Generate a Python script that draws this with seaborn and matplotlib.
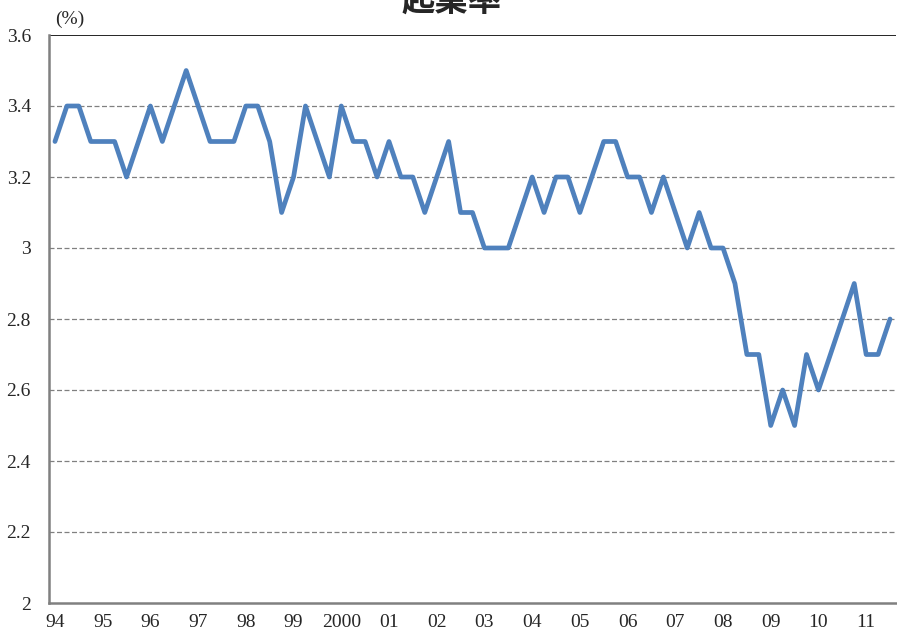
import numpy as np
import pandas as pd
import matplotlib.pyplot as plt
import seaborn as sns

# 起業率 (四半期, 1994Q1 - 2011Q3)
rate = [3.3, 3.4, 3.4, 3.3, 3.3, 3.3, 3.2, 3.3, 3.4, 3.3, 3.4, 3.5,
        3.4, 3.3, 3.3, 3.3, 3.4, 3.4, 3.3, 3.1, 3.2, 3.4, 3.3, 3.2,
        3.4, 3.3, 3.3, 3.2, 3.3, 3.2, 3.2, 3.1, 3.2, 3.3, 3.1, 3.1,
        3.0, 3.0, 3.0, 3.1, 3.2, 3.1, 3.2, 3.2, 3.1, 3.2, 3.3, 3.3,
        3.2, 3.2, 3.1, 3.2, 3.1, 3.0, 3.1, 3.0, 3.0, 2.9, 2.7, 2.7,
        2.5, 2.6, 2.5, 2.7, 2.6, 2.7, 2.8, 2.9, 2.7, 2.7, 2.8]
year_labels = ["94", "95", "96", "97", "98", "99", "2000", "01", "02",
               "03", "04", "05", "06", "07", "08", "09", "10", "11"]
y_ticks = [2, 2.2, 2.4, 2.6, 2.8, 3, 3.2, 3.4, 3.6]

df = pd.DataFrame({"q": np.arange(len(rate)), "rate": rate})

sns.set_style("white")
plt.rcParams["font.family"] = ["Liberation Serif", "Noto Sans CJK JP"]

fig = plt.figure(figsize=(8.97, 6.33), dpi=100)
ax = fig.add_axes([49 / 897, 30 / 633, 847 / 897, 568 / 633])

grey = "#808080"
for v in y_ticks[1:-1]:
    ax.axhline(v, color=grey, lw=0.9, ls=(0, (4, 2)), zorder=1)
ax.axhline(3.6, color="black", lw=1.2, zorder=1)

sns.lineplot(data=df, x="q", y="rate", color="#4F81BD", lw=3.4, ax=ax, zorder=3)

ax.set_xlim(-0.5, len(rate) - 0.5)
ax.set_ylim(2, 3.6)
ax.set_yticks(y_ticks)
ax.set_yticklabels([f"{v:g}" for v in y_ticks])
ax.set_xticks(np.arange(0, len(rate), 4))
ax.set_xticklabels(year_labels)
ax.set_xticks(np.arange(-0.5, len(rate), 4), minor=True)
ax.tick_params(axis="x", which="major", length=0, pad=8, labelsize=14)
ax.tick_params(axis="x", which="minor", length=5, color=grey, width=1.2, direction="out")
ax.tick_params(axis="y", length=5, color=grey, width=1.2, direction="out", labelsize=14, pad=8)
ax.set_xlabel("")
ax.set_ylabel("")

for s in ["top", "right"]:
    ax.spines[s].set_visible(False)
for s in ["left", "bottom"]:
    ax.spines[s].set_color(grey)
    ax.spines[s].set_linewidth(1.8)

fig.text(55 / 897, 1 - 19 / 633, "(%)", fontsize=14, va="center", ha="left")
fig.text(452 / 897, 1 - 1 / 633, "起業率", fontsize=24, fontweight="bold",
         va="center", ha="center", family=["Noto Sans CJK JP"])

fig.savefig("out.png", dpi=100)
